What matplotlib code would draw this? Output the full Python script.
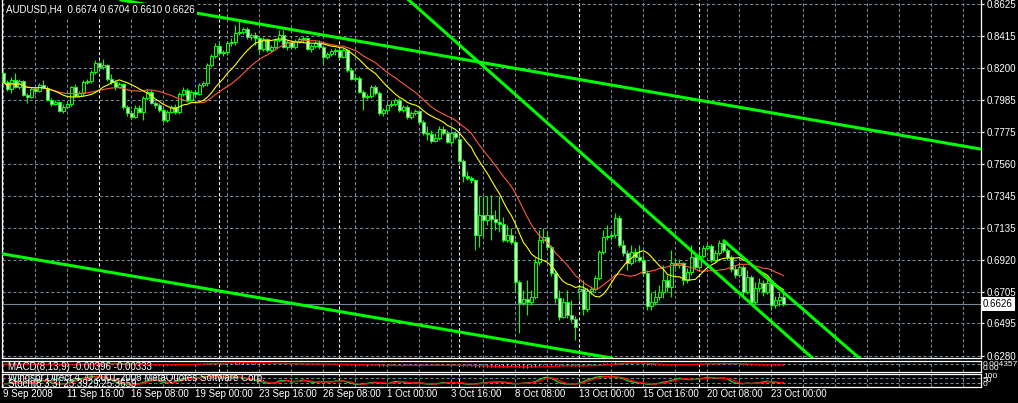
import numpy as np
import pandas as pd
import matplotlib
matplotlib.use("Agg")
import matplotlib.pyplot as plt
import matplotlib.transforms as mtransforms

plt.rcParams['font.family'] = ['Liberation Sans', 'DejaVu Sans']

# ---------------- data (AUDUSD, H4) ----------------
opens = [
    0.8167, 0.8107, 0.8060, 0.8121, 0.8074, 0.8114, 0.8020, 0.8007, 0.8060, 0.8047,
    0.8087, 0.8067, 0.7987, 0.7960, 0.7974, 0.7914, 0.7940, 0.7960, 0.8074, 0.8014,
    0.8034, 0.8107, 0.8114, 0.8174, 0.8234, 0.8207, 0.8221, 0.8127, 0.8107, 0.8074,
    0.8094, 0.7940, 0.7900, 0.7873, 0.7934, 0.7907, 0.8000, 0.8040, 0.7967, 0.7954,
    0.7920, 0.7853, 0.7907, 0.7940, 0.7907, 0.8027, 0.8054, 0.7987, 0.8040, 0.8027,
    0.8087, 0.8101, 0.8221, 0.8281, 0.8348, 0.8301, 0.8308, 0.8368, 0.8374, 0.8435,
    0.8441, 0.8461, 0.8408, 0.8421, 0.8401, 0.8328, 0.8394, 0.8321, 0.8341, 0.8388,
    0.8421, 0.8341, 0.8374, 0.8341, 0.8381, 0.8394, 0.8401, 0.8328, 0.8348, 0.8368,
    0.8341, 0.8274, 0.8294, 0.8314, 0.8321, 0.8274, 0.8321, 0.8187, 0.8127, 0.8134,
    0.8040, 0.8007, 0.8014, 0.8074, 0.8034, 0.7900, 0.7920, 0.7954, 0.7960, 0.7987,
    0.7920, 0.7940, 0.7873, 0.7900, 0.7914, 0.7840, 0.7767, 0.7760, 0.7713, 0.7733,
    0.7793, 0.7767, 0.7706, 0.7767, 0.7727, 0.7580, 0.7479, 0.7466, 0.7453, 0.7085,
    0.7219, 0.7185, 0.7219, 0.7192, 0.7172, 0.7159, 0.7052, 0.7085, 0.7038, 0.6771,
    0.6631, 0.6658, 0.6638, 0.6671, 0.6905, 0.7052, 0.7072, 0.7005, 0.6831, 0.6664,
    0.6537, 0.6638, 0.6551, 0.6524, 0.6711, 0.6725, 0.6591, 0.6711, 0.6725, 0.6798,
    0.6972, 0.7072, 0.7079, 0.7085, 0.7199, 0.7018, 0.6965, 0.6898, 0.6972, 0.6938,
    0.6918, 0.6831, 0.6611, 0.6638, 0.6671, 0.6704, 0.6785, 0.6738, 0.6898, 0.6885,
    0.6898, 0.6785, 0.6838, 0.6938, 0.6871, 0.6945, 0.6998, 0.7012, 0.6918, 0.6965,
    0.7032, 0.6985, 0.6938, 0.6858, 0.6818, 0.6871, 0.6704, 0.6805, 0.6638, 0.6731,
    0.6765, 0.6704, 0.6765, 0.6618, 0.6651, 0.6674,
]
highs = [
    0.8181, 0.8121, 0.8141, 0.8167, 0.8127, 0.8121, 0.8034, 0.8074, 0.8081, 0.8101,
    0.8121, 0.8081, 0.8000, 0.7987, 0.7980, 0.7960, 0.7974, 0.8081, 0.8094, 0.8047,
    0.8121, 0.8127, 0.8187, 0.8254, 0.8248, 0.8261, 0.8228, 0.8161, 0.8121, 0.8107,
    0.8101, 0.7954, 0.7920, 0.7954, 0.7954, 0.8014, 0.8060, 0.8054, 0.7980, 0.7967,
    0.7934, 0.7920, 0.7954, 0.7960, 0.8040, 0.8074, 0.8067, 0.8054, 0.8054, 0.8101,
    0.8114, 0.8234, 0.8294, 0.8368, 0.8381, 0.8321, 0.8381, 0.8401, 0.8488, 0.8521,
    0.8475, 0.8475, 0.8435, 0.8441, 0.8415, 0.8408, 0.8401, 0.8354, 0.8401, 0.8455,
    0.8455, 0.8388, 0.8388, 0.8394, 0.8408, 0.8415, 0.8408, 0.8361, 0.8381, 0.8388,
    0.8354, 0.8308, 0.8328, 0.8334, 0.8334, 0.8334, 0.8328, 0.8201, 0.8161, 0.8147,
    0.8054, 0.8027, 0.8087, 0.8087, 0.8047, 0.7934, 0.7967, 0.7987, 0.8000, 0.8000,
    0.7954, 0.7954, 0.7914, 0.7927, 0.7920, 0.7853, 0.7813, 0.7787, 0.7767, 0.7813,
    0.7813, 0.7787, 0.7780, 0.7780, 0.7753, 0.7593, 0.7513, 0.7479, 0.7459, 0.7346,
    0.7346, 0.7346, 0.7352, 0.7252, 0.7346, 0.7205, 0.7152, 0.7132, 0.7052, 0.6785,
    0.6718, 0.6785, 0.6718, 0.6932, 0.7119, 0.7132, 0.7105, 0.7018, 0.6851, 0.6718,
    0.6664, 0.6718, 0.6651, 0.6544, 0.6751, 0.6785, 0.6731, 0.6745, 0.6818, 0.6985,
    0.7119, 0.7152, 0.7105, 0.7232, 0.7219, 0.7052, 0.6985, 0.7018, 0.6998, 0.7018,
    0.6952, 0.6851, 0.6704, 0.6718, 0.6751, 0.6885, 0.6818, 0.6985, 0.6932, 0.6925,
    0.6905, 0.6865, 0.7018, 0.6952, 0.6985, 0.7018, 0.7032, 0.7025, 0.6985, 0.7052,
    0.7052, 0.6998, 0.6952, 0.6885, 0.6905, 0.6885, 0.6851, 0.6818, 0.6771, 0.6798,
    0.6785, 0.6798, 0.6785, 0.6678, 0.6704, 0.6704,
]
lows = [
    0.8094, 0.8047, 0.8034, 0.8067, 0.8060, 0.8014, 0.7967, 0.8000, 0.8027, 0.8040,
    0.8060, 0.7980, 0.7947, 0.7954, 0.7907, 0.7900, 0.7934, 0.7947, 0.8007, 0.8007,
    0.8014, 0.8094, 0.8101, 0.8161, 0.8187, 0.8194, 0.8114, 0.8094, 0.8054, 0.8067,
    0.7927, 0.7880, 0.7860, 0.7867, 0.7900, 0.7853, 0.7987, 0.7960, 0.7934, 0.7907,
    0.7840, 0.7840, 0.7900, 0.7893, 0.7893, 0.8014, 0.7974, 0.7980, 0.8014, 0.8020,
    0.8074, 0.8081, 0.8207, 0.8268, 0.8288, 0.8281, 0.8288, 0.8348, 0.8354, 0.8421,
    0.8428, 0.8394, 0.8388, 0.8354, 0.8308, 0.8314, 0.8308, 0.8308, 0.8328, 0.8374,
    0.8334, 0.8321, 0.8328, 0.8328, 0.8368, 0.8368, 0.8321, 0.8308, 0.8334, 0.8328,
    0.8228, 0.8261, 0.8281, 0.8288, 0.8261, 0.8268, 0.8174, 0.8121, 0.8114, 0.8034,
    0.7920, 0.7994, 0.8000, 0.8020, 0.7887, 0.7880, 0.7907, 0.7940, 0.7947, 0.7907,
    0.7907, 0.7860, 0.7860, 0.7887, 0.7827, 0.7753, 0.7720, 0.7700, 0.7706, 0.7720,
    0.7753, 0.7700, 0.7693, 0.7727, 0.7566, 0.7439, 0.7453, 0.7433, 0.6985, 0.7005,
    0.7072, 0.7152, 0.7052, 0.7119, 0.7105, 0.7038, 0.7038, 0.7025, 0.6704, 0.6431,
    0.6618, 0.6551, 0.6618, 0.6658, 0.6885, 0.7032, 0.6985, 0.6811, 0.6631, 0.6517,
    0.6531, 0.6531, 0.6504, 0.6384, 0.6651, 0.6551, 0.6571, 0.6691, 0.6711, 0.6785,
    0.6958, 0.7052, 0.7052, 0.7065, 0.7005, 0.6945, 0.6851, 0.6885, 0.6905, 0.6905,
    0.6811, 0.6584, 0.6584, 0.6618, 0.6651, 0.6664, 0.6704, 0.6671, 0.6865, 0.6865,
    0.6751, 0.6765, 0.6818, 0.6858, 0.6851, 0.6932, 0.6985, 0.6905, 0.6905, 0.6952,
    0.6972, 0.6918, 0.6838, 0.6798, 0.6805, 0.6684, 0.6691, 0.6618, 0.6624, 0.6704,
    0.6678, 0.6691, 0.6584, 0.6598, 0.6611, 0.6610,
]
closes = [
    0.8107, 0.8060, 0.8121, 0.8074, 0.8114, 0.8020, 0.8007, 0.8060, 0.8047, 0.8087,
    0.8067, 0.7987, 0.7960, 0.7974, 0.7914, 0.7940, 0.7960, 0.8074, 0.8014, 0.8034,
    0.8107, 0.8114, 0.8174, 0.8234, 0.8207, 0.8221, 0.8127, 0.8107, 0.8074, 0.8094,
    0.7940, 0.7900, 0.7873, 0.7934, 0.7907, 0.8000, 0.8040, 0.7967, 0.7954, 0.7920,
    0.7853, 0.7907, 0.7940, 0.7907, 0.8027, 0.8054, 0.7987, 0.8040, 0.8027, 0.8087,
    0.8101, 0.8221, 0.8281, 0.8348, 0.8301, 0.8308, 0.8368, 0.8374, 0.8435, 0.8441,
    0.8461, 0.8408, 0.8421, 0.8401, 0.8328, 0.8394, 0.8321, 0.8341, 0.8388, 0.8421,
    0.8341, 0.8374, 0.8341, 0.8381, 0.8394, 0.8401, 0.8328, 0.8348, 0.8368, 0.8341,
    0.8274, 0.8294, 0.8314, 0.8321, 0.8274, 0.8321, 0.8187, 0.8127, 0.8134, 0.8040,
    0.8007, 0.8014, 0.8074, 0.8034, 0.7900, 0.7920, 0.7954, 0.7960, 0.7987, 0.7920,
    0.7940, 0.7873, 0.7900, 0.7914, 0.7840, 0.7767, 0.7760, 0.7713, 0.7733, 0.7793,
    0.7767, 0.7706, 0.7767, 0.7740, 0.7580, 0.7479, 0.7466, 0.7453, 0.7085, 0.7219,
    0.7185, 0.7219, 0.7192, 0.7172, 0.7159, 0.7052, 0.7085, 0.7038, 0.6771, 0.6631,
    0.6658, 0.6638, 0.6671, 0.6905, 0.7052, 0.7072, 0.7005, 0.6831, 0.6664, 0.6537,
    0.6638, 0.6551, 0.6524, 0.6471, 0.6725, 0.6591, 0.6711, 0.6725, 0.6798, 0.6972,
    0.7072, 0.7079, 0.7085, 0.7199, 0.7018, 0.6965, 0.6898, 0.6972, 0.6938, 0.6918,
    0.6831, 0.6611, 0.6638, 0.6671, 0.6704, 0.6785, 0.6738, 0.6898, 0.6885, 0.6898,
    0.6785, 0.6838, 0.6938, 0.6871, 0.6945, 0.6998, 0.7012, 0.6918, 0.6965, 0.7032,
    0.6985, 0.6938, 0.6858, 0.6818, 0.6871, 0.6704, 0.6805, 0.6638, 0.6731, 0.6765,
    0.6704, 0.6765, 0.6618, 0.6651, 0.6671, 0.6626,
]

date_labels = ["9 Sep 2008", "11 Sep 16:00", "16 Sep 08:00", "19 Sep 00:00",
               "23 Sep 16:00", "26 Sep 08:00", "1 Oct 00:00", "3 Oct 16:00",
               "8 Oct 08:00", "13 Oct 00:00", "15 Oct 16:00", "20 Oct 08:00",
               "23 Oct 00:00"]
label_bars = [0, 16, 32, 48, 64, 80, 96, 112, 128, 144, 160, 176, 192]
week_start_bars = [24, 54, 84, 114, 144, 174]
price_ticks = [0.8625, 0.8415, 0.8200, 0.7985, 0.7775, 0.7560, 0.7345,
               0.7135, 0.6920, 0.6705, 0.6495, 0.6280]
# trend lines: two anchor points (bar index, price)
trend_lines = [((46.7, 0.8575), (244.2, 0.7660)),
               ((102.2, 0.8635), (201.7, 0.6277)),
               ((-0.1, 0.6959), (149.2, 0.6277))]
trend_ray = ((179.9, 0.7052), (213.4, 0.6277))
last_price = 0.6626
title_text = "AUDUSD,H4  0.6674 0.6704 0.6610 0.6626"
macd_label = "MACD(8,13,9) -0.00396 -0.00333"
stoch_label = "Stoch(8,3,3) 23.3929 25.3659"
copyright_label = "Windsor Direct 4, \u00a9 2001-2008 MetaQuotes Software Corp."
macd_scale_labels = ["0.004357", "0.00"]
stoch_scale_labels = ["100", "50", "0"]

# ---------------- figure ----------------
W, H = 1018, 403
fig = plt.figure(figsize=(W / 100, H / 100), dpi=100)
fig.patch.set_facecolor('black')

def fax(x0, y0, x1, y1):
    return fig.add_axes([x0 / W, 1 - y1 / H, (x1 - x0) / W, (y1 - y0) / H])

ax = fax(2, 0, 981, 358)
axm = fax(2, 361, 981, 372)
axs = fax(2, 374, 981, 387)

LIME = '#00ff00'
GRID = '#778899'
n = len(closes)
x = np.arange(n)
O = np.array(opens); Hh = np.array(highs); L = np.array(lows); C = np.array(closes)
xlim = (-0.33, 244.4)

for a in (ax, axm, axs):
    a.set_facecolor('black')
    a.set_xlim(*xlim)
    a.set_xticks([])
    for s in a.spines.values():
        s.set_color('white')
        s.set_linewidth(0.9)
ax.spines['top'].set_visible(False)

dash = (0, (3.0, 2.2))
# vertical grid every 8 bars, week separators in white
for a in (ax, axm, axs):
    for g in range(0, 245, 8):
        if g in week_start_bars:
            continue
        a.axvline(g - 0.1, color=GRID, lw=0.75, ls=dash, zorder=1)
    for w in week_start_bars:
        a.axvline(w, color='white', lw=0.75, ls=dash, zorder=1)

# main chart
ax.set_ylim(0.6264, 0.8655)
for p in price_ticks:
    ax.axhline(p, color=GRID, lw=0.75, ls=dash, zorder=1)
ax.axhline(last_price, color=GRID, lw=0.8, zorder=1.5)

ax.yaxis.tick_right()
ax.set_yticks(price_ticks)
ax.set_yticklabels([f"{p:.4f}" for p in price_ticks])
ax.tick_params(axis='y', colors='white', length=2.5, width=0.8, labelsize=7, pad=1.5)

up = C >= O
face = np.where(up, 'black', 'white')
ax.vlines(x, L, Hh, color=LIME, lw=0.8, zorder=3)
ax.bar(x, np.maximum(np.abs(C - O), 1e-5), bottom=np.minimum(O, C), width=0.62,
       color=face, edgecolor=LIME, linewidth=0.75, zorder=4)

ma_fast = pd.Series(C).rolling(13, min_periods=1).mean()
ma_slow = pd.Series(C).rolling(21, min_periods=1).mean()
ax.plot(x, ma_slow, color='#ff5a3a', lw=0.8, zorder=5)
ax.plot(x, ma_fast, color='#ffff00', lw=0.8, zorder=5)

for p1, p2 in trend_lines:
    ax.axline(p1, p2, color=LIME, lw=2.2, zorder=6)
(rx1, ry1), (rx2, ry2) = trend_ray
slope = (ry2 - ry1) / (rx2 - rx1)
ax.plot([rx1, xlim[1]], [ry1, ry1 + slope * (xlim[1] - rx1)], color=LIME, lw=2.2,
        zorder=6, solid_capstyle='butt')

ax.text(0.0045, 1 - 10 / 358, title_text, transform=ax.transAxes, color='white',
        fontsize=7, va='center', ha='left', zorder=10,
        bbox=dict(facecolor='black', edgecolor='none', pad=1.2))

trans_px = mtransforms.blended_transform_factory(fig.transFigure, ax.transData)
ax.text(983 / W, last_price, f"{last_price:.4f}", transform=trans_px, color='black',
        fontsize=7, va='center', ha='left', zorder=10, clip_on=False,
        bbox=dict(facecolor='white', edgecolor='none', pad=1.3))

# MACD panel
ema_f = pd.Series(C).ewm(span=8, adjust=False).mean()
ema_s = pd.Series(C).ewm(span=13, adjust=False).mean()
macd = ema_f - ema_s
signal = macd.rolling(9, min_periods=1).mean()
axm.set_ylim(-0.030, 0.012)
axm.set_yticks([])
axm.axhline(0.0, color=GRID, lw=0.75, ls=dash, zorder=1)
axm.vlines(x, 0, macd, color='#c0c0c0', lw=0.8, zorder=2)
axm.plot(x, signal, color='red', lw=0.9, zorder=3)
axm.text(0.006, 0.45, macd_label, transform=axm.transAxes, color='white',
         fontsize=7, va='center', ha='left', zorder=5, clip_on=True)
tr_m = mtransforms.blended_transform_factory(fig.transFigure, axm.transAxes)
axm.text(983 / W, 0.70, macd_scale_labels[0], transform=tr_m, color='white',
         fontsize=6, va='center', ha='left', clip_on=False)
axm.text(983 / W, 0.30, macd_scale_labels[1], transform=tr_m, color='white',
         fontsize=6, va='center', ha='left', clip_on=False)

# Stochastic panel
ll = pd.Series(L).rolling(8, min_periods=1).min()
hh = pd.Series(Hh).rolling(8, min_periods=1).max()
num = (pd.Series(C) - ll).rolling(3, min_periods=1).sum()
den = (hh - ll).rolling(3, min_periods=1).sum()
k = 100 * num / den
d = k.rolling(3, min_periods=1).mean()
axs.set_ylim(-25, 125)
axs.set_yticks([])
for lv in (20, 80):
    axs.axhline(lv, color=GRID, lw=0.75, ls=dash, zorder=1)
axs.plot(x, k, color='#32cd32', lw=0.9, zorder=3)
axs.plot(x, d, color='red', lw=0.9, zorder=4)
axs.text(0.006, 0.66, copyright_label, transform=axs.transAxes, color='white',
         fontsize=7, va='center', ha='left', zorder=5, clip_on=True)
axs.text(0.006, 0.22, stoch_label, transform=axs.transAxes, color='white',
         fontsize=7, va='center', ha='left', zorder=5, clip_on=True)
tr_s = mtransforms.blended_transform_factory(fig.transFigure, axs.transAxes)
for lab, yy in zip(stoch_scale_labels, (0.80, 0.50, 0.20)):
    axs.text(983 / W, yy, lab, transform=tr_s, color='white', fontsize=6,
             va='center', ha='left', clip_on=False)

# time labels
tr_t = mtransforms.blended_transform_factory(ax.transData, fig.transFigure)
for b, lab in zip(label_bars, date_labels):
    ax.text(b - 0.2, 1 - 394 / H, lab, transform=tr_t, color='white', fontsize=7,
            va='center', ha='left', clip_on=False)

fig.savefig('out.png', dpi=100, facecolor='black')
